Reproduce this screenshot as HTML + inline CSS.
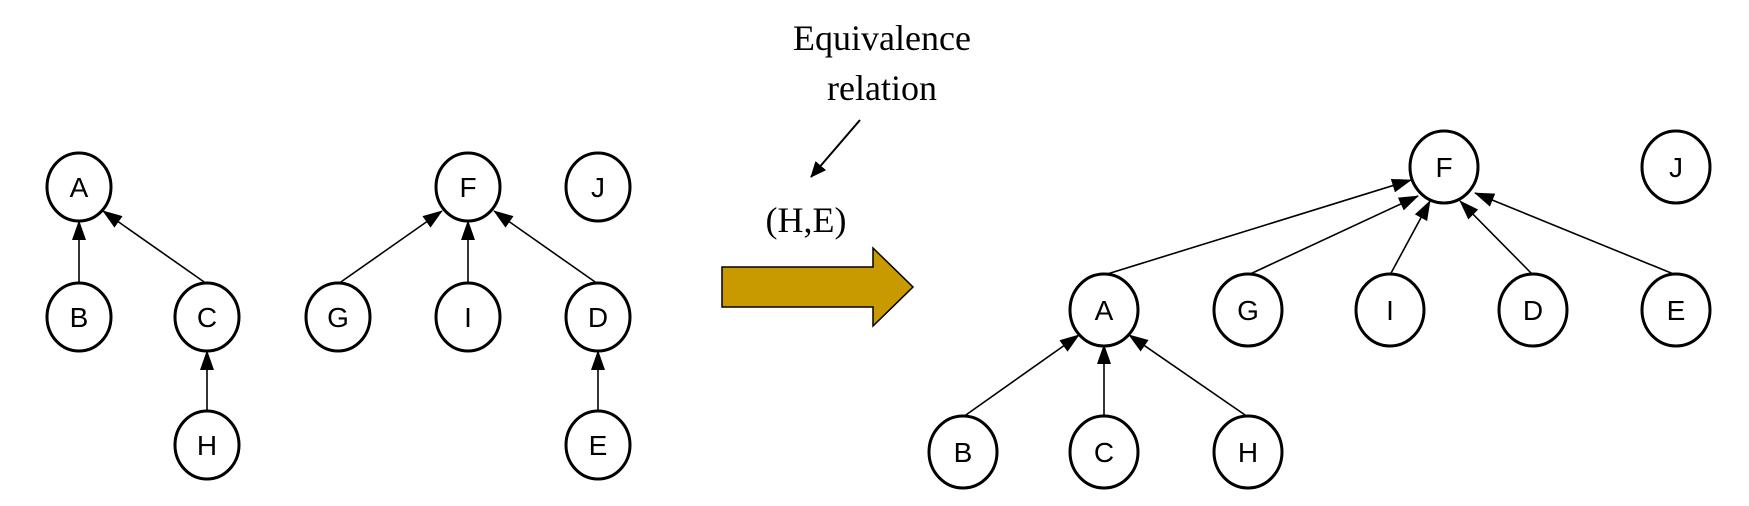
<!DOCTYPE html>
<html><head><meta charset="utf-8"><style>
html,body{margin:0;padding:0;background:#fff;}
svg{display:block;}
</style></head><body>
<svg width="1749" height="506" viewBox="0 0 1749 506" xmlns="http://www.w3.org/2000/svg">
<defs>
<marker id="ah" markerWidth="20" markerHeight="14" refX="19" refY="7" orient="auto" markerUnits="userSpaceOnUse">
<path d="M0,0 L20,7 L0,14 z" fill="#000"/>
</marker>
<marker id="ah2" markerWidth="16" markerHeight="14" refX="15" refY="7" orient="auto" markerUnits="userSpaceOnUse">
<path d="M0,0 L16,7 L0,14 z" fill="#000"/>
</marker>
</defs>
<g stroke="#000" stroke-width="1.6" fill="none" marker-end="url(#ah)">
<line x1="79" y1="284" x2="79" y2="221"/>
<line x1="207" y1="284" x2="103" y2="211"/>
<line x1="207" y1="412" x2="207" y2="351"/>
<line x1="338" y1="284" x2="442" y2="211"/>
<line x1="468" y1="284" x2="468" y2="221"/>
<line x1="598" y1="284" x2="494" y2="211"/>
<line x1="598" y1="412" x2="598" y2="351"/>
<line x1="1104" y1="275" x2="1411" y2="180"/>
<line x1="1248" y1="275" x2="1418" y2="196"/>
<line x1="1390" y1="275" x2="1430" y2="201"/>
<line x1="1533" y1="275" x2="1460" y2="201"/>
<line x1="1676" y1="275" x2="1475" y2="193"/>
<line x1="963" y1="417" x2="1079" y2="335"/>
<line x1="1104" y1="417" x2="1104" y2="345"/>
<line x1="1248" y1="417" x2="1129" y2="335"/>
</g>
<line x1="860" y1="120" x2="811" y2="177" stroke="#000" stroke-width="2" marker-end="url(#ah2)"/>
<g stroke="#000" stroke-width="3" fill="#fff">
<ellipse cx="79" cy="187" rx="32" ry="34"/>
<ellipse cx="79" cy="317" rx="32" ry="34"/>
<ellipse cx="207" cy="317" rx="32" ry="34"/>
<ellipse cx="207" cy="445" rx="32" ry="34"/>
<ellipse cx="468" cy="187" rx="32" ry="34"/>
<ellipse cx="598" cy="187" rx="32" ry="34"/>
<ellipse cx="338" cy="317" rx="32" ry="34"/>
<ellipse cx="468" cy="317" rx="32" ry="34"/>
<ellipse cx="598" cy="317" rx="32" ry="34"/>
<ellipse cx="598" cy="445" rx="32" ry="34"/>
<ellipse cx="1444" cy="167" rx="34" ry="36"/>
<ellipse cx="1676" cy="167" rx="34" ry="36"/>
<ellipse cx="1104" cy="310" rx="34" ry="36"/>
<ellipse cx="1248" cy="310" rx="34" ry="36"/>
<ellipse cx="1390" cy="310" rx="34" ry="36"/>
<ellipse cx="1533" cy="310" rx="34" ry="36"/>
<ellipse cx="1676" cy="310" rx="34" ry="36"/>
<ellipse cx="963" cy="452" rx="34" ry="36"/>
<ellipse cx="1104" cy="452" rx="34" ry="36"/>
<ellipse cx="1248" cy="452" rx="34" ry="36"/>
</g>
<g font-family="Liberation Sans, sans-serif" font-size="28" text-anchor="middle" fill="#000">
<text x="79" y="197">A</text>
<text x="79" y="327">B</text>
<text x="207" y="327">C</text>
<text x="207" y="455">H</text>
<text x="468" y="197">F</text>
<text x="598" y="197">J</text>
<text x="338" y="327">G</text>
<text x="468" y="327">I</text>
<text x="598" y="327">D</text>
<text x="598" y="455">E</text>
<text x="1444" y="177">F</text>
<text x="1676" y="177">J</text>
<text x="1104" y="320">A</text>
<text x="1248" y="320">G</text>
<text x="1390" y="320">I</text>
<text x="1533" y="320">D</text>
<text x="1676" y="320">E</text>
<text x="963" y="462">B</text>
<text x="1104" y="462">C</text>
<text x="1248" y="462">H</text>
</g>
<g font-family="Liberation Serif, serif" font-size="36" text-anchor="middle" fill="#000">
<text x="882" y="50">Equivalence</text>
<text x="882" y="100">relation</text>
<text x="806" y="232">(H,E)</text>
</g>
<path d="M722,267 L873,267 L873,248 L913,287 L873,326 L873,307 L722,307 Z" fill="#c99a00" stroke="#000" stroke-width="1.5"/>
</svg>
</body></html>
